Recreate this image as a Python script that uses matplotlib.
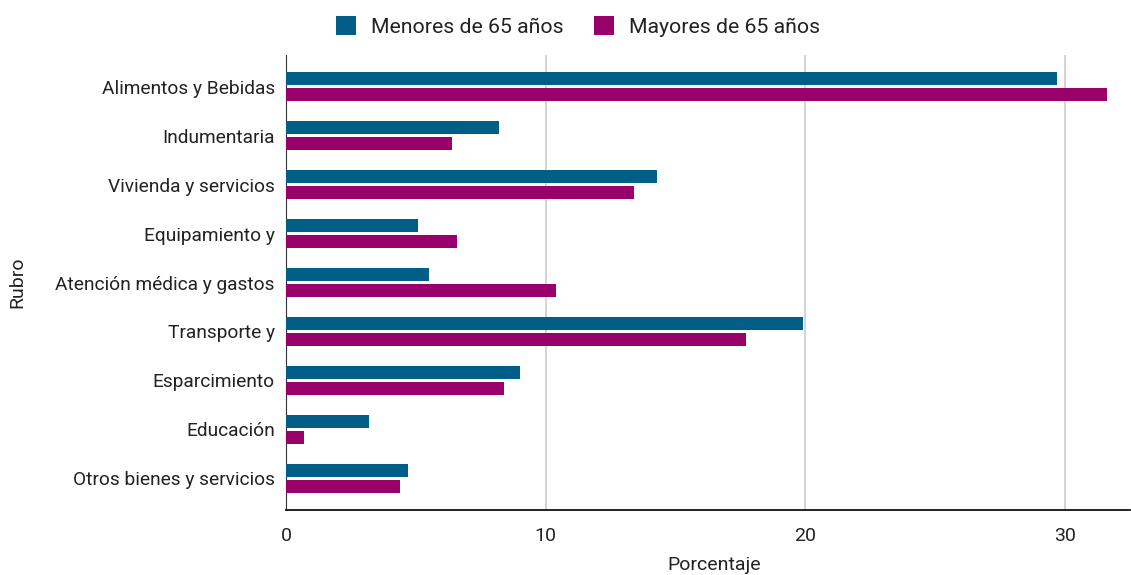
import numpy as np
import matplotlib
matplotlib.use('Agg')
import matplotlib.pyplot as plt

plt.rcParams['font.family'] = ['Roboto', 'DejaVu Sans']

rubros = ['Alimentos y Bebidas', 'Indumentaria', 'Vivienda y servicios', 'Equipamiento y',
          'Atención médica y gastos', 'Transporte y', 'Esparcimiento', 'Educación',
          'Otros bienes y servicios']
menores = [29.7, 8.2, 14.3, 5.1, 5.5, 19.9, 9.0, 3.2, 4.7]
mayores = [31.6, 6.4, 13.4, 6.6, 10.4, 17.7, 8.4, 0.7, 4.4]
xticks = [0, 10, 20, 30]

c_men = '#015f87'
c_may = '#98006a'

fig = plt.figure(figsize=(11.31, 5.75), dpi=100)
ax = fig.add_axes([286 / 1131, 1 - 510 / 575, (1130 - 286) / 1131, (510 - 55) / 575])

y = np.arange(len(rubros))
h = 0.265
ax.barh(y - 0.163, menores, height=h, color=c_men, label='Menores de 65 años', zorder=3)
ax.barh(y + 0.163, mayores, height=h, color=c_may, label='Mayores de 65 años', zorder=3)

ax.set_ylim(len(rubros) - 0.35, -0.65)
ax.set_xlim(0, 32.5)
ax.set_yticks(y)
ax.set_yticklabels(rubros, fontsize=13.8, color='#222222')
ax.set_xticks(xticks)
ax.set_xticklabels([str(t) for t in xticks], fontsize=14, color='#222222')
ax.tick_params(length=0, pad=8)
ax.tick_params(axis='x', pad=12)

ax.grid(axis='x', color='#cccccc', linewidth=1.2, zorder=0)
for s in ['top', 'right']:
    ax.spines[s].set_visible(False)
ax.spines['left'].set_color('#333333')
ax.spines['bottom'].set_color('#111111')
ax.spines['bottom'].set_linewidth(1.3)

ax.set_ylabel('Rubro', fontsize=14, color='#222222')
ax.yaxis.set_label_coords(-260 / 844, 0.5)
ax.set_xlabel('Porcentaje', fontsize=14, color='#222222', labelpad=8)
ax.xaxis.set_label_coords(0.507, -0.1)

fig.legend(loc='upper center', bbox_to_anchor=(578 / 1131, 1.005), ncol=2, frameon=False,
           fontsize=15.3, handlelength=0.95, handleheight=0.95, columnspacing=1.4,
           handletextpad=0.7, labelcolor='#222222')

fig.savefig('out.png', dpi=100)
